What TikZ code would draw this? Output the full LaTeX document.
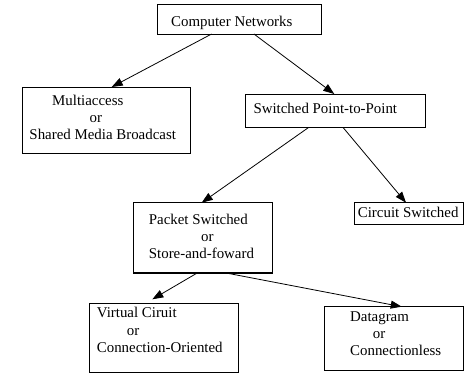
\documentclass[tikz,border=0pt]{standalone}
\usepackage{fontspec}
\setmainfont{Liberation Serif}
\usetikzlibrary{arrows.meta,calc}
\begin{document}
\begin{tikzpicture}[x=1pt,y=-1pt,
  box/.style={draw, line width=0.8pt, inner sep=0pt, outer sep=0pt},
  thickbox/.style={box, line width=1.6pt},
  txt/.style={anchor=base west, inner sep=0pt, font=\fontsize{14.9}{17}\selectfont},
  arr/.style={-{Triangle[length=11pt,width=8pt]}, line width=0.8pt}]
\useasboundingbox (0,0) rectangle (464,374);
% boxes
\node[box, minimum width=164pt, minimum height=30pt] (cn) at (239,19) {};
\node[box, minimum width=167.3pt, minimum height=66.5pt] (ma) at (106.35,120.25) {};
\node[box, minimum width=179.3pt, minimum height=33.7pt] (sp) at (335.35,110.85) {};
\node[thickbox, minimum width=139pt, minimum height=70.6pt] (ps) at (202.8,238) {};
\node[box, minimum width=109.3pt, minimum height=21.6pt] (cs) at (408.65,213.5) {};
\node[box, minimum width=149.7pt, minimum height=69.2pt] (vc) at (163.85,337.9) {};
\node[box, minimum width=139pt, minimum height=64pt] (dg) at (393.8,338.7) {};
% texts
\node[txt] (cnT) at (171,27) {Computer Networks};
\node[txt] (ma1) at (52,105.5) {Multiaccess};
\node[txt] (ma2) at (89.5,122.5) {or};
\node[txt] (ma3) at (29.3,139.5) {Shared Media Broadcast};
\node[txt] (spT) at (253.3,113.3) {Switched Point-to-Point};
\node[txt] (ps1) at (148.7,225) {Packet Switched};
\node[txt] (ps2) at (201,241.7) {or};
\node[txt] (ps3) at (148.7,258.7) {Store-and-foward};
\node[txt] (csT) at (357.7,217.7) {Circuit Switched};
\node[txt] (vc1) at (96.7,317.7) {Virtual Ciruit};
\node[txt] (vc2) at (126.7,335.3) {or};
\node[txt] (vc3) at (96.7,352.7) {Connection-Oriented};
\node[txt] (dg1) at (350,321.7) {Datagram};
\node[txt] (dg2) at (372.7,338.3) {or};
\node[txt] (dg3) at (350,356) {Connectionless};
% arrows
\draw[arr] ($(cn.south west)!0.333!(cn.south east)$) -- ($(ma.north west)!0.532!(ma.north east)$);
\draw[arr] ($(cn.south west)!0.591!(cn.south east)$) -- ($(sp.north west)!0.494!(sp.north east)$);
\draw[arr] ($(sp.south west)!0.349!(sp.south east)$) -- ($(ps.north west)!0.492!(ps.north east)$);
\draw[arr] ($(sp.south west)!0.544!(sp.south east)$) -- ($(cs.north west)!0.476!(cs.north east)$);
\draw[arr] ($(ps.south west)!0.456!(ps.south east)$) -- ($(vc.north west)!0.423!(vc.north east)+(0,-4)$);
\draw[arr] ($(ps.south west)!0.679!(ps.south east)$) -- ($(dg.north west)!0.557!(dg.north east)$);
\end{tikzpicture}
\end{document}
